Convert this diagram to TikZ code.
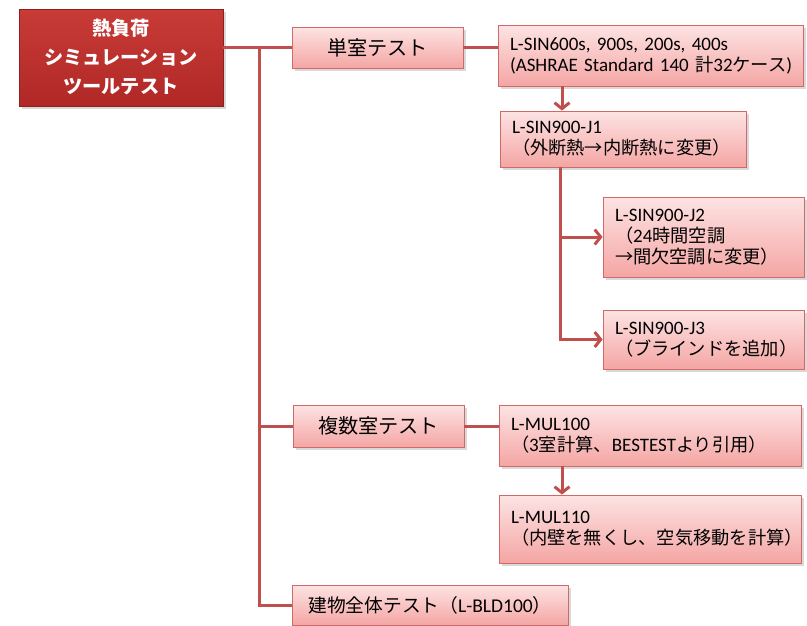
\documentclass[tikz,border=0pt]{standalone}
\usepackage{fontspec}
\setmainfont{Carlito}
\newfontfamily\jp[Scale=0.96]{Noto Sans CJK JP}
\usetikzlibrary{arrows.meta,shadows,calc}
\definecolor{lnred}{HTML}{C0504D}
\definecolor{boxedge}{HTML}{D06A66}
\definecolor{pinktop}{HTML}{FDE3E3}
\definecolor{pinkbot}{HTML}{F4A6A4}
\definecolor{roottop}{HTML}{C83B37}
\definecolor{rootbot}{HTML}{B02826}
\begin{document}
\begin{tikzpicture}[x=1pt,y=-1pt,
  box/.style={draw=boxedge, line width=0.8pt, top color=pinktop, bottom color=pinkbot,
    drop shadow={shadow xshift=2.5pt, shadow yshift=-2.5pt, opacity=0.3},
    inner xsep=12pt, inner ysep=0pt, font=\fontsize{19}{21}\selectfont},
  leftbox/.style={box, align=left},
  midbox/.style={box, align=center, font=\fontsize{21}{22}\selectfont},
  rootbox/.style={draw=rootbot!80!black, line width=0.8pt, top color=roottop, bottom color=rootbot,
    drop shadow={shadow xshift=2.5pt, shadow yshift=-2.5pt, opacity=0.3},
    text=white, align=center, font=\fontsize{20}{29}\selectfont},
  conn/.style={draw=lnred, line width=3pt},
  arr/.style={conn, -{Straight Barb[length=6pt,width=15pt]}}
]
\useasboundingbox (0,0) rectangle (807,625);

\node[rootbox, minimum width=204pt, minimum height=97pt] (root) at (121,57.5)
  {{\jp\bfseries 熱負荷}\\{\jp\bfseries シミュレーション}\\{\jp\bfseries ツールテスト}};

\node[midbox, minimum width=171pt, minimum height=41pt] (tan) at (377.5,47.5) {\jp 単室テスト};
\node[midbox, minimum width=171pt, minimum height=42pt] (fuku) at (378.5,426) {\jp 複数室テスト};
\node[box, align=center, font=\fontsize{19.5}{22}\selectfont, inner xsep=6pt,
  minimum width=276pt, minimum height=40pt] (bld) at (430,605)
  {{\jp 建物全体テスト（}L-BLD100{\jp ）}};

\node[leftbox, minimum width=305pt, minimum height=61pt, text width=281pt] (sin) at (650.5,55.5)
  {L-SIN600s, 900s, 200s, 400s\\\mbox{(ASHRAE Standard 140 {\jp 計}32{\jp ケース})}};
\node[leftbox, minimum width=246pt, minimum height=56pt, text width=222pt] (j1) at (623,139)
  {L-SIN900-J1\\{\jp （外断熱→内断熱に変更）}};
\node[leftbox, minimum width=201pt, minimum height=80pt, text width=177pt] (j2) at (703.5,237)
  {L-SIN900-J2\\{\jp （}24{\jp 時間空調}\\\mbox{\jp →間欠空調に変更）}};
\node[leftbox, minimum width=201pt, minimum height=59pt, text width=177pt] (j3) at (703.5,339.5)
  {L-SIN900-J3\\{\jp （ブラインドを追加）}};
\node[leftbox, minimum width=302pt, minimum height=61pt, text width=278pt] (m100) at (650,435.5)
  {L-MUL100\\{\jp （}3{\jp 室計算、}BESTEST{\jp より引用）}};
\node[leftbox, minimum width=302pt, minimum height=68pt, text width=278pt] (m110) at (650,529)
  {L-MUL110\\\mbox{\jp （内壁を無くし、空気移動を計算）}};

\coordinate (t) at (259,47.5);
\coordinate (a1) at (562,86);
\coordinate (b1) at (560,167);
\coordinate (a2) at (562,466);

\draw[conn] (tan.west) -- (tan.west -| root.east);
\draw[conn] (t) |- (fuku.west);
\draw[conn] (t) |- (bld.west);
\draw[conn] (tan.east) -- (tan.east -| sin.west);
\draw[conn] (fuku.east) -- (fuku.east -| m100.west);
\draw[arr] (a1) -- (a1 |- j1.north);
\draw[arr] (b1) |- (j2.west);
\draw[arr] (b1) |- (j3.west);
\draw[arr] (a2) -- (a2 |- m110.north);
\end{tikzpicture}
\end{document}
